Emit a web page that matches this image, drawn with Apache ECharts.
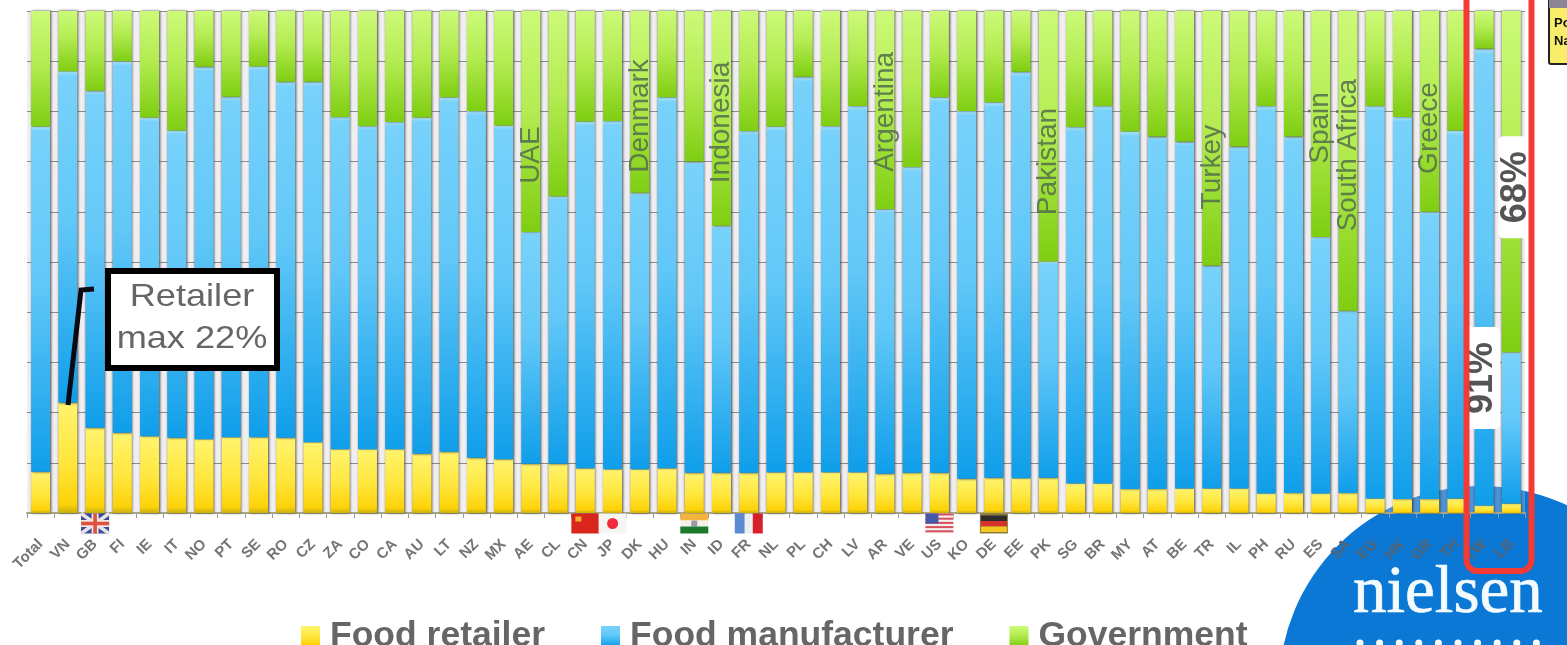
<!DOCTYPE html>
<html>
<head>
<meta charset="utf-8">
<title>Responsibility for food by country</title>
<style>html,body{margin:0;padding:0;background:#fff}#chart{width:1567px;height:645px}</style>
<script src="https://cdn.jsdelivr.net/npm/echarts@6/dist/echarts.min.js"></script>
</head>
<body>
<div id="chart"></div>
<script>
// Country codes along the horizontal axis, first entry is the overall figure.
const categories = ['Total','VN','GB','FI','IE','IT','NO','PT','SE','RO','CZ','ZA','CO','CA','AU','LT','NZ','MX','AE','CL','CN','JP','DK','HU','IN','ID','FR','NL','PL','CH','LV','AR','VE','US','KO','DE','EE','PK','SG','BR','MY','AT','BE','TR','IL','PH','RU','ES','SA','EG','HK','GR','TH','TW','LB'];

// Share of answers per party, in percent.
const foodRetailer = [8.2,22,17,16,15.3,15,14.7,15.1,15.1,15,14.1,12.7,12.7,12.7,11.8,12.2,11,10.7,9.8,9.8,8.9,8.7,8.7,8.9,8,8,8,8.1,8.1,8.1,8.1,7.8,8,8,6.8,7,6.9,7,5.9,5.9,4.8,4.8,4.9,4.9,4.9,3.9,4,3.9,4,2.9,2.8,2.8,2.9,1.5,1.9];
const foodManufacturer = [68.8,66,67.1,74,63.5,61.2,74.2,67.8,73.9,70.9,71.8,66.2,64.4,65.2,67,70.6,69.1,66.5,46.2,53.3,69.1,69.4,55.1,73.9,62,49.2,68.1,68.9,78.8,69,73,52.7,60.9,74.8,73.3,74.8,81,43.1,71,75.2,71.2,70.2,69.1,44.4,68.1,77.2,71,51.1,36.3,78.2,76.1,57.2,73.3,91,30.1];
const government = [23,12,15.9,10,21.2,23.8,11.1,17.1,11,14.1,14.1,21.1,22.9,22.1,21.2,17.2,19.9,22.8,44,36.9,22,21.9,36.2,17.2,30,42.8,23.9,23,13.1,22.9,18.9,39.5,31.1,17.2,19.9,18.2,12.1,49.9,23.1,18.9,24,25,26,50.7,27,18.9,25,45,59.7,18.9,21.1,40,23.8,7.5,68];

// Country names written along the bars that stand out.
const noteCodes = ['AE','DK','ID','AR','PK','TR','ES','SA','GR'];
const noteNames = ['UAE','Denmark','Indonesia','Argentina','Pakistan','Turkey','Spain','South Africa','Greece'];
const noteLevels = [71.3,79.1,77.8,79.9,70,68.9,76.7,71.3,76.7];

// The two highlighted percentages on the last bars.
const calloutCodes = ['TW','LB'];
const calloutTexts = ['91%','68%'];
const calloutLevels = [26.9,64.9];

// Flags shown under a few country codes.
const flagCodes = ['GB','CN','JP','IN','FR','US','DE'];

const legendNames = ['Food retailer','Food manufacturer','Government'];

function vertical(stops) {
  return { type: 'linear', x: 0, y: 0, x2: 0, y2: 1,
    colorStops: stops.map(s => ({ offset: s[0], color: s[1] })) };
}

const barShadow = { shadowColor: 'rgba(55,55,50,0.95)', shadowBlur: 2.5, shadowOffsetX: 0.6, shadowOffsetY: 0 };

function barSeries(name, data, fill) {
  return { name, type: 'bar', stack: 'share', data, barWidth: 19, z: 3,
    itemStyle: Object.assign({ color: fill }, barShadow) };
}

// Small flag drawn from flat rectangles, centred on (0,0).
function rect(x, y, w, h, fill) {
  return { type: 'rect', shape: { x, y, width: w, height: h }, style: { fill } };
}
function line(x1, y1, x2, y2, stroke, lineWidth) {
  return { type: 'line', shape: { x1, y1, x2, y2 }, style: { stroke, lineWidth } };
}
function flagParts(code) {
  const W = 14, H = 10;
  switch (code) {
    case 'GB': return [rect(-W,-H,W*2,H*2,'#3c4a96'),
      line(-W,-H,W,H,'#e8e2ea',3.5), line(W,-H,-W,H,'#e8e2ea',3.5),
      rect(-W,-3.5,W*2,7,'#efe6e6'), rect(-3.5,-H,7,H*2,'#efe6e6'),
      rect(-W,-1.8,W*2,3.6,'#e0503c'), rect(-1.8,-H,3.6,H*2,'#e0503c')];
    case 'CN': return [rect(-W,-H,W*2,H*2,'#d9261c'), rect(-10,-7,6,5,'#f0b030')];
    case 'JP': return [rect(-W,-H,W*2,H*2,'#f7f4f4'),
      { type: 'circle', shape: { cx: 0, cy: 0, r: 5.5 }, style: { fill: '#ee2a3c' } }];
    case 'IN': return [rect(-W,-H,W*2,7,'#f2b43c'), rect(-W,-3,W*2,6,'#f4f2e8'),
      rect(-3,-3,6,6,'#9a9aa8'), rect(-W,3,W*2,7,'#1c7a2c')];
    case 'FR': return [rect(-W,-H,10,H*2,'#5c8ad0'), rect(-W+10,-H,8,H*2,'#eceef2'), rect(-W+18,-H,10,H*2,'#d8202c')];
    case 'US': {
      const stripes = [rect(-W,-H,W*2,H*2,'#f4eeee')];
      for (let i = 0; i < 5; i++) stripes.push(rect(-W,-H + i * 4.2,W*2,2,'#d8505c'));
      stripes.push(rect(-W,-H,13,10,'#4658a8'));
      return stripes;
    }
    case 'DE': return [rect(-W,-H,W*2,H*2,'#8a7a3c'), rect(-13,-8,W*2-2,5.5,'#2c2c2c'), rect(-13,-2.5,W*2-2,5.5,'#d8302c'), rect(-13,3,W*2-2,5.5,'#f4c820')];
  }
  return [];
}

const chart = echarts.init(document.getElementById('chart'));

const logoDots = [];
for (let k = 0; k < 10; k++) {
  logoDots.push({ type: 'circle', z: 1, silent: true, shape: { cx: 1360 + k * 19.6, cy: 643, r: 3.5 }, style: { fill: '#fff' } });
}

chart.setOption({
  animation: false,
  backgroundColor: '#fff',
  textStyle: { fontFamily: '"Liberation Sans", Arial, sans-serif' },
  legend: {
    data: legendNames, left: 296, top: 613, icon: 'rect',
    itemWidth: 19, itemHeight: 20, itemGap: 56,
    textStyle: { fontSize: 35.5, fontWeight: 'bold', color: '#666', padding: [0, 0, 0, 5] }
  },
  grid: { left: 27, right: 42, top: 11, bottom: 132, show: true,
    backgroundColor: 'rgba(214,206,214,0.32)', borderWidth: 0 },
  xAxis: {
    type: 'category', data: categories, boundaryGap: true,
    axisLine: { lineStyle: { color: '#a8a68c', width: 2 } },
    axisTick: { show: true, length: 5, lineStyle: { color: '#999' } },
    axisLabel: { rotate: 45, interval: 0, margin: 29, fontSize: 15, fontWeight: 'bold',
      // the codes that fall on the blue mark read darker
      color: (value, index) => index > 47 ? '#56626e' : '#747474' },
    splitLine: { show: false }
  },
  yAxis: {
    type: 'value', min: 0, max: 100, interval: 10,
    axisLine: { show: false }, axisTick: { show: false }, axisLabel: { show: false },
    splitLine: { show: true, lineStyle: { color: '#8c8c8c', width: 1 } }
  },
  series: [
    barSeries(legendNames[0], foodRetailer, vertical([[0,'#fff46e'],[0.55,'#ffe63c'],[0.92,'#fdd208'],[1,'#c8b010']])),
    barSeries(legendNames[1], foodManufacturer, vertical([[0,'#b6ecff'],[0.012,'#78d2fb'],[0.45,'#62c8f8'],[1,'#0f9eea']])),
    barSeries(legendNames[2], government, vertical([[0,'#ccfa78'],[0.45,'#b4ec52'],[1,'#7fce12']])),
    {
      type: 'scatter', symbolSize: 1, z: 5, silent: true,
      itemStyle: { color: 'transparent', opacity: 1 },
      data: noteCodes.map((c, i) => ({ value: [c, noteLevels[i]], name: noteNames[i] })),
      label: { show: true, position: 'inside', rotate: 90, formatter: '{b}',
        fontSize: 28, color: 'rgba(84,112,76,0.88)' }
    },
    {
      type: 'scatter', symbolSize: 1, z: 6, silent: true,
      itemStyle: { color: 'transparent', opacity: 1 },
      data: calloutCodes.map((c, i) => ({ value: [c, calloutLevels[i]], name: calloutTexts[i],
        label: { offset: [0, i === 1 ? 5 : -2] } })),
      label: { show: true, position: 'inside', rotate: 90, formatter: '{b}',
        fontSize: 36, fontWeight: 'bold', color: '#555', lineHeight: 32,
        backgroundColor: '#fff', borderRadius: 5, padding: [2, 15] }
    },
    {
      type: 'custom', z: 4, silent: true, clip: false,
      data: flagCodes.map(c => [c, 0]),
      renderItem(params, api) {
        const p = api.coord([api.value(0), 0]);
        return { type: 'group', x: p[0], y: p[1] + 10.5, children: flagParts(flagCodes[params.dataIndex]) };
      }
    }
  ],
  graphic: [
    // Company mark, sits behind the plot
    { type: 'circle', z: -10, silent: true, shape: { cx: 1481, cy: 688, r: 202 }, style: { fill: '#0a78d4' } },
    { type: 'text', z: 1, silent: true, x: 1353, y: 628,
      style: { text: 'nielsen', font: '67px "Liberation Serif", serif', fill: '#f4fbff', stroke: '#f4fbff', lineWidth: 0.7, textVerticalAlign: 'bottom', textBaseline: 'alphabetic' } },
    ...logoDots,
    // Frame around the last two bars
    { type: 'rect', z: 50, silent: true, shape: { x: 1466.5, y: -30, width: 65, height: 601, r: 11 },
      style: { fill: 'none', stroke: '#f43a34', lineWidth: 6 } },
    // Pointer and box for the highest retailer score
    { type: 'polyline', z: 50, silent: true, shape: { points: [[68, 405], [81, 290], [94, 289]] },
      style: { fill: 'none', stroke: '#0a0a14', lineWidth: 5 } },
    { type: 'rect', z: 50, silent: true, shape: { x: 108, y: 271, width: 169, height: 97 },
      style: { fill: '#fff', stroke: '#000', lineWidth: 6 } },
    { type: 'text', z: 51, silent: true, x: 192, y: 318, scaleX: 1.13,
      style: { text: 'Retailer\nmax 22%', font: '32px "Liberation Sans", sans-serif', lineHeight: 42,
        fill: '#666', align: 'center', verticalAlign: 'middle' } },
    // Edge of a neighbouring note at the top right
    { type: 'rect', z: 50, silent: true, shape: { x: 1549, y: -6, width: 30, height: 70, r: 2 },
      style: { fill: '#f8ee6c', stroke: '#222', lineWidth: 2 } },
    { type: 'rect', z: 51, silent: true, shape: { x: 1549, y: 0, width: 18, height: 8 }, style: { fill: '#8c8694' } },
    { type: 'text', z: 51, silent: true, x: 1554, y: 14,
      style: { text: 'Po\nNa', font: 'bold 13px "Liberation Sans", sans-serif', lineHeight: 18, fill: '#111' } }
  ]
});
</script>
</body>
</html>
